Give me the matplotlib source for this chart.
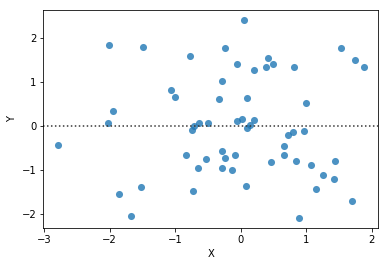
import matplotlib
matplotlib.use("Agg")
import matplotlib.pyplot as plt

# residuals
x_vals = [-2.003, -1.484, -0.766, -1.056, -0.995, -1.942, -2.018, 0.058, -0.232, -0.049,
          0.211, 0.424, 0.394, 0.501, 0.821, 1.524, 1.737, 1.875, -0.278, -0.324,
          0.104, 1.000, -0.049, 0.027, 0.211, 0.104, 0.145, -0.629, -0.492, -0.710,
          -0.736, 0.730, 0.806, 0.974, 0.669, 0.669, -0.278, -0.232, -0.079, -0.522,
          0.470, 0.837, 1.066, -0.278, -0.125, -0.644, -2.782, -0.840, -1.850, -1.515,
          -0.721, -1.667, 1.447, 1.249, 1.418, 1.157, 0.089, 1.692, 0.898]
y_vals = [1.838, 1.793, 1.588, 0.813, 0.654, 0.335, 0.062, 2.408, 1.770, 1.405,
          1.269, 1.542, 1.337, 1.405, 1.337, 1.770, 1.497, 1.337, 1.018, 0.608,
          0.631, 0.535, 0.107, 0.153, 0.130, -0.052, 0.016, 0.062, 0.062, -0.007,
          -0.098, -0.212, -0.144, -0.121, -0.462, -0.667, -0.576, -0.736, -0.667, -0.759,
          -0.827, -0.804, -0.895, -0.964, -1.009, -0.964, -0.440, -0.667, -1.556, -1.396,
          -1.487, -2.050, -0.804, -1.123, -1.214, -1.442, -1.374, -1.715, -2.103]

fig = plt.figure(figsize=(388 / 72, 266 / 72), dpi=72)
ax = fig.add_axes([0.1116, 0.1417, 0.975 - 0.1116, 0.961 - 0.1417])

ax.scatter(x_vals, y_vals, s=50, color="#1f77b4", alpha=0.8, linewidths=0)
ax.axhline(0, ls=":", c=".2")

ax.set_xlim(-3.01, 2.10)
ax.set_ylim(-2.33, 2.636)
ax.set_xticks([-3, -2, -1, 0, 1, 2])
ax.set_yticks([-2, -1, 0, 1, 2])
ax.set_xlabel("X")
ax.set_ylabel("Y")

fig.savefig("out.png", dpi=72)
